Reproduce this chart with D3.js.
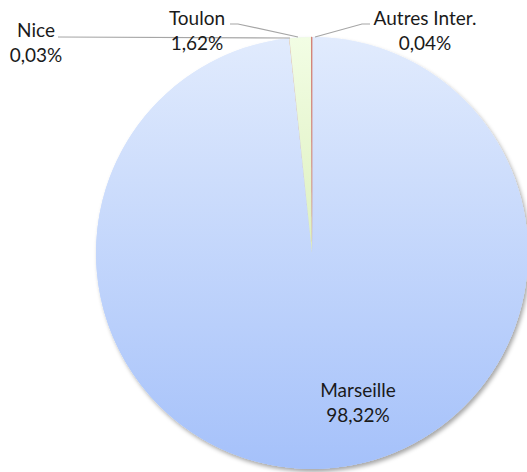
<!DOCTYPE html>
<html>
<head>
<meta charset="utf-8">
<script src="https://cdn.jsdelivr.net/npm/d3@7"></script>
<style>
  body { margin: 0; background: #fff; }
  svg { display: block; }
</style>
</head>
<body>
<div id="chart"></div>
<script>
// data
const names = ["Marseille", "Nice", "Toulon", "Autres Inter."];
const shares = [98.32, 0.03, 1.62, 0.04];
const labels = ["98,32%", "0,03%", "1,62%", "0,04%"];

const width = 527, height = 472;
const cx = 312, cy = 253, r = 216;

const svg = d3.select("#chart").append("svg")
    .attr("width", width)
    .attr("height", height)
    .style("font-family", "Lato, 'Open Sans', sans-serif")
    .style("font-size", "19px");

const defs = svg.append("defs");

const shadow = defs.append("filter")
    .attr("id", "shadow")
    .attr("x", "-10%").attr("y", "-10%")
    .attr("width", "120%").attr("height", "120%");
shadow.append("feDropShadow")
    .attr("dx", 2).attr("dy", 3)
    .attr("stdDeviation", 2)
    .attr("flood-color", "#000")
    .attr("flood-opacity", 0.35);

// vertical gradients over the pie box (pie-local coords)
const grads = [
  ["#e1ebfd", "#a5c1fa"],
  ["#e8b070", "#d89040"],
  ["#f2fde4", "#c9e39a"],
  ["#c0504d", "#b04040"]
];
grads.forEach((c, i) => {
  const lg = defs.append("linearGradient")
      .attr("id", "g" + i)
      .attr("gradientUnits", "userSpaceOnUse")
      .attr("x1", 0).attr("y1", -r)
      .attr("x2", 0).attr("y2", r);
  lg.append("stop").attr("offset", "0%").attr("stop-color", c[0]);
  lg.append("stop").attr("offset", "100%").attr("stop-color", c[1]);
});

// edge of the thin red slice fades out toward the centre
const edge = defs.append("linearGradient")
    .attr("id", "edge")
    .attr("gradientUnits", "userSpaceOnUse")
    .attr("x1", 0).attr("y1", -r)
    .attr("x2", 0).attr("y2", 0);
edge.append("stop").attr("offset", "0%").attr("stop-color", "#d47f72").attr("stop-opacity", 1);
edge.append("stop").attr("offset", "70%").attr("stop-color", "#d47f72").attr("stop-opacity", 0.5);
edge.append("stop").attr("offset", "100%").attr("stop-color", "#d47f72").attr("stop-opacity", 0);

const pie = d3.pie().sort(null).value(d => d)(shares);
const arc = d3.arc().innerRadius(0).outerRadius(r);

const g = svg.append("g").attr("transform", `translate(${cx},${cy})`);

g.append("circle")
    .attr("r", r)
    .attr("fill", "url(#g0)")
    .attr("filter", "url(#shadow)");

g.selectAll("path.slice")
  .data(pie)
  .join("path")
    .attr("class", "slice")
    .attr("d", arc)
    .attr("fill", (d, i) => `url(#g${i})`)
    .attr("stroke", (d, i) => i === 3 ? "url(#edge)" : "none")
    .attr("stroke-width", 0.8);

// label positions
const spots = [
  { tx: 358, ty: 397, line: null },
  { tx: 36, ty: 37, line: [[58, 37], [290, 38]] },
  { tx: 197, ty: 25, line: [[230, 24], [238, 24], [298, 37]] },
  { tx: 425, ty: 25, line: [[370, 24], [362, 24], [315, 37]] }
];

spots.forEach((o, i) => {
  if (o.line) {
    svg.append("path")
        .attr("d", d3.line()(o.line))
        .attr("fill", "none")
        .attr("stroke", "#a6a6a6")
        .attr("stroke-width", 1.2);
  }
  const t = svg.append("text").attr("text-anchor", "middle").attr("fill", "#1a1a1a");
  t.append("tspan").attr("x", o.tx).attr("y", o.ty).text(names[i]);
  t.append("tspan").attr("x", o.tx).attr("y", o.ty + 25).text(labels[i]);
});
</script>
</body>
</html>
